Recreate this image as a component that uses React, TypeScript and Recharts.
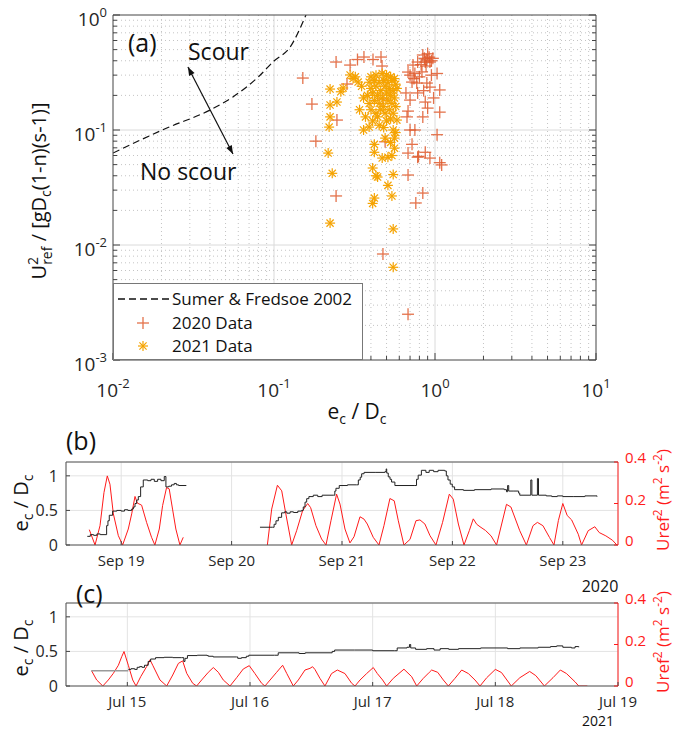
import React from 'react'
import {
  ComposedChart,
  Scatter,
  Line,
  XAxis,
  YAxis,
  ReferenceLine,
  Legend,
  CartesianGrid,
} from 'recharts'

const FONT = '"Open Sans", "DejaVu Sans", sans-serif'
const RED20 = '#e05a2c'
const YEL21 = '#f5a300'
const UCOL = '#ff1a1a'

// ---- panel (a) data ----
const sumerX = [0.01, 0.0216, 0.04, 0.0556, 0.08, 0.1, 0.126, 0.158]
const sumerY = [0.063, 0.104, 0.149, 0.194, 0.29, 0.398, 0.527, 1.0]

const data2020 = [
  [0.151, 0.283], [0.172, 0.168], [0.182, 0.08], [0.243, 0.39], [0.246, 0.122],
  [0.243, 0.0267], [0.297, 0.367], [0.33, 0.41], [0.362, 0.431], [0.412, 0.41],
  [0.462, 0.431], [0.469, 0.36], [0.284, 0.251], [0.49, 0.079], [0.475, 0.00835],
  [0.475, 0.186], [0.84, 0.449], [0.89, 0.407], [0.93, 0.39], [0.78, 0.39],
  [0.73, 0.367], [0.68, 0.319], [0.75, 0.31], [1.03, 0.31], [0.83, 0.32],
  [0.72, 0.261], [0.77, 0.256], [0.89, 0.256], [0.93, 0.236], [1.07, 0.223],
  [0.78, 0.21], [0.7, 0.182], [0.87, 0.175], [0.9, 0.155], [1.07, 0.143],
  [0.68, 0.146], [0.84, 0.13], [0.75, 0.1], [0.7, 0.1], [1.03, 0.091],
  [0.68, 0.063], [0.87, 0.064], [0.93, 0.057], [0.78, 0.058], [1.07, 0.052],
  [0.79, 0.059], [1.1, 0.0497], [0.68, 0.0406], [0.84, 0.0283], [0.76, 0.0232],
  [0.68, 0.0025], [0.86, 0.42], [0.92, 0.43], [0.95, 0.4], [0.88, 0.36],
  [0.82, 0.37], [0.97, 0.42], [0.7, 0.3], [0.74, 0.28], [0.8, 0.29],
  [0.95, 0.3], [0.66, 0.21], [0.67, 0.13], [0.98, 0.19], [0.85, 0.22],
  [0.72, 0.075], [0.9, 0.46], [0.87, 0.39],
]

const data2021 = [
  [0.223, 0.227], [0.269, 0.232], [0.297, 0.301], [0.333, 0.261], [0.223, 0.165],
  [0.246, 0.175], [0.223, 0.13], [0.22, 0.106], [0.217, 0.063], [0.23, 0.042],
  [0.223, 0.0155], [0.26, 0.215], [0.31, 0.28], [0.35, 0.24], [0.32, 0.29],
  [0.36, 0.1], [0.34, 0.15], [0.36, 0.19],
  [0.4, 0.29], [0.43, 0.3], [0.47, 0.31], [0.5, 0.3], [0.53, 0.29], [0.56, 0.28],
  [0.39, 0.26], [0.42, 0.27], [0.45, 0.26], [0.48, 0.27], [0.51, 0.26], [0.54, 0.27], [0.57, 0.25],
  [0.4, 0.23], [0.43, 0.24], [0.46, 0.22], [0.49, 0.24], [0.52, 0.23], [0.55, 0.22], [0.58, 0.23],
  [0.38, 0.2], [0.41, 0.21], [0.44, 0.2], [0.47, 0.19], [0.5, 0.21], [0.53, 0.2], [0.56, 0.19],
  [0.39, 0.17], [0.42, 0.18], [0.45, 0.17], [0.48, 0.16], [0.51, 0.18], [0.54, 0.17], [0.57, 0.16],
  [0.4, 0.15], [0.43, 0.14], [0.46, 0.15], [0.49, 0.14], [0.52, 0.15], [0.55, 0.14],
  [0.37, 0.13], [0.41, 0.12], [0.44, 0.13], [0.5, 0.12], [0.53, 0.125], [0.58, 0.122],
  [0.39, 0.106], [0.45, 0.11], [0.48, 0.105], [0.55, 0.1], [0.57, 0.095],
  [0.49, 0.085], [0.56, 0.085], [0.42, 0.075], [0.53, 0.078],
  [0.56, 0.0695], [0.42, 0.064], [0.51, 0.058], [0.47, 0.057], [0.54, 0.06],
  [0.41, 0.0467], [0.44, 0.039], [0.43, 0.04], [0.55, 0.041], [0.51, 0.033],
  [0.54, 0.0267], [0.42, 0.0256], [0.41, 0.023], [0.55, 0.0138], [0.55, 0.0064],
]

// ---- panel (b) data: Sep 2020, time in day of month ----
const ecB1 = [
  [18.693, 0.125], [18.72, 0.15], [18.75, 0.14], [18.78, 0.16], [18.81, 0.15], [18.853, 0.15],
  [18.868, 0.28], [18.88, 0.35], [18.892, 0.43], [18.922, 0.49], [18.96, 0.5], [19.0, 0.49],
  [19.03, 0.51], [19.06, 0.5], [19.095, 0.52], [19.11, 0.55], [19.125, 0.6], [19.14, 0.65],
  [19.155, 0.7], [19.176, 0.84], [19.2, 0.94], [19.24, 0.93], [19.27, 0.95], [19.3, 0.92],
  [19.33, 0.95], [19.36, 0.93], [19.39, 0.99], [19.405, 0.84], [19.43, 0.85], [19.456, 0.87],
  [19.48, 0.89], [19.5, 0.87], [19.52, 0.86], [19.59, 0.86],
]
const ecB2 = [
  [20.257, 0.257], [20.372, 0.257], [20.385, 0.3], [20.402, 0.35], [20.423, 0.4], [20.453, 0.465],
  [20.48, 0.48], [20.5, 0.46], [20.53, 0.48], [20.56, 0.47], [20.6, 0.49], [20.634, 0.5],
  [20.649, 0.55], [20.665, 0.62], [20.68, 0.67], [20.7, 0.7], [20.74, 0.72], [20.78, 0.7],
  [20.82, 0.72], [20.921, 0.72], [20.935, 0.78], [20.945, 0.82], [20.975, 0.86], [21.05, 0.87],
  [21.132, 0.87], [21.148, 0.94], [21.165, 0.98], [21.178, 1.03], [21.2, 1.05], [21.3, 1.05],
  [21.389, 1.06], [21.4, 1.1], [21.405, 1.04], [21.419, 0.985], [21.435, 0.95], [21.449, 0.91],
  [21.479, 0.86], [21.66, 0.86], [21.675, 0.95], [21.69, 1.01], [21.719, 1.08], [21.76, 1.05],
  [21.79, 1.08], [21.83, 1.06], [21.87, 1.08], [21.93, 1.07], [21.945, 1.0], [21.96, 0.94],
  [21.98, 0.88], [21.999, 0.84], [22.02, 0.8], [22.1, 0.79], [22.2, 0.8], [22.35, 0.81],
  [22.47, 0.8], [22.49, 0.77], [22.5, 0.86], [22.51, 0.78], [22.55, 0.78], [22.6, 0.75],
  [22.61, 0.72], [22.71, 0.94], [22.72, 0.72], [22.77, 0.96], [22.78, 0.72], [22.85, 0.71],
  [22.9, 0.7], [22.95, 0.71], [23.0, 0.7], [23.1, 0.7], [23.2, 0.71], [23.31, 0.7],
]
const uB1 = [
  [18.711, 0.074], [18.763, 0.0], [18.808, 0.093], [18.844, 0.253], [18.874, 0.333], [18.898, 0.293],
  [18.929, 0.15], [18.974, 0.045], [19.013, 0.0], [19.064, 0.077], [19.095, 0.15], [19.125, 0.234],
  [19.146, 0.202], [19.185, 0.192], [19.23, 0.109], [19.275, 0.037], [19.305, 0.0], [19.345, 0.077],
  [19.375, 0.19], [19.411, 0.277], [19.435, 0.27], [19.465, 0.173], [19.495, 0.077], [19.532, 0.0],
  [19.562, 0.037],
]
const uB2 = [
  [20.324, 0.0], [20.363, 0.173], [20.415, 0.288], [20.454, 0.261], [20.493, 0.145], [20.544, 0.0],
  [20.589, 0.069], [20.643, 0.165], [20.689, 0.2], [20.716, 0.18], [20.764, 0.093], [20.815, 0.029],
  [20.855, 0.0], [20.9, 0.117], [20.951, 0.245], [20.982, 0.197], [21.027, 0.077], [21.072, 0.01],
  [21.109, 0.04], [21.163, 0.136], [21.199, 0.125], [21.229, 0.101], [21.283, 0.037], [21.335, 0.0],
  [21.38, 0.093], [21.434, 0.224], [21.473, 0.213], [21.51, 0.117], [21.561, 0.0], [21.616, 0.027],
  [21.67, 0.117], [21.706, 0.121], [21.751, 0.101], [21.797, 0.045], [21.851, 0.0], [21.911, 0.109],
  [21.972, 0.245], [22.008, 0.221], [22.054, 0.101], [22.105, 0.0], [22.153, 0.069], [22.189, 0.126],
  [22.22, 0.1], [22.25, 0.088], [22.3, 0.07], [22.35, 0.044], [22.4, 0.0], [22.49, 0.196],
  [22.53, 0.183], [22.61, 0.069], [22.67, 0.0], [22.73, 0.093], [22.77, 0.109], [22.82, 0.093],
  [22.88, 0.036], [22.92, 0.0], [22.96, 0.118], [23.0, 0.2], [23.04, 0.142], [23.08, 0.121],
  [23.14, 0.052], [23.17, 0.0], [23.23, 0.069], [23.29, 0.088], [23.33, 0.06], [23.39, 0.044],
  [23.45, 0.023], [23.49, 0.0],
]

// ---- panel (c) data: Jul 2021 ----
const ecCgap = [[14.706, 0.22], [15.008, 0.22]]
const ecC = [
  [15.008, 0.24], [15.03, 0.25], [15.06, 0.24], [15.08, 0.27], [15.1, 0.28], [15.12, 0.27],
  [15.14, 0.3], [15.17, 0.355], [15.19, 0.39], [15.23, 0.41], [15.3, 0.415], [15.37, 0.41],
  [15.44, 0.41], [15.46, 0.355], [15.47, 0.4], [15.49, 0.44], [15.57, 0.445], [15.65, 0.44],
  [15.66, 0.43], [15.7, 0.42], [15.89, 0.42], [15.9, 0.4], [15.93, 0.41], [15.97, 0.43],
  [15.99, 0.445], [16.2, 0.445], [16.23, 0.48], [16.4, 0.47], [16.45, 0.48], [16.67, 0.5],
  [16.69, 0.52], [16.85, 0.52], [17.0, 0.51], [17.18, 0.51], [17.2, 0.55], [17.28, 0.56],
  [17.3, 0.6], [17.31, 0.55], [17.35, 0.53], [17.44, 0.54], [17.5, 0.52], [17.55, 0.54],
  [17.62, 0.53], [17.7, 0.54], [17.88, 0.55], [18.1, 0.54], [18.2, 0.55], [18.35, 0.56],
  [18.45, 0.57], [18.5, 0.58], [18.55, 0.56], [18.62, 0.55], [18.65, 0.57], [18.68, 0.56],
]
const uC = [
  [14.709, 0.073], [14.75, 0.029], [14.8, 0.0], [14.845, 0.029], [14.886, 0.061], [14.927, 0.1],
  [14.954, 0.141], [14.973, 0.166], [15.008, 0.1], [15.044, 0.029], [15.071, 0.0], [15.109, 0.045],
  [15.158, 0.094], [15.185, 0.126], [15.207, 0.1], [15.266, 0.029], [15.321, 0.0], [15.37, 0.053],
  [15.416, 0.109], [15.451, 0.121], [15.484, 0.061], [15.533, 0.013], [15.565, 0.0], [15.606, 0.029],
  [15.66, 0.066], [15.701, 0.089], [15.742, 0.066], [15.782, 0.029], [15.837, 0.0], [15.891, 0.04],
  [15.945, 0.082], [15.994, 0.098], [16.04, 0.06], [16.095, 0.013], [16.122, 0.0], [16.217, 0.066],
  [16.266, 0.1], [16.3, 0.06], [16.353, 0.0], [16.394, 0.029], [16.448, 0.077], [16.489, 0.085],
  [16.51, 0.093], [16.529, 0.08], [16.57, 0.037], [16.611, 0.0], [16.665, 0.06], [16.712, 0.077],
  [16.774, 0.06], [16.829, 0.013], [16.856, 0.0], [16.897, 0.029], [16.951, 0.06], [17.005, 0.089],
  [17.038, 0.06], [17.081, 0.029], [17.114, 0.0], [17.168, 0.037], [17.255, 0.081], [17.318, 0.045],
  [17.359, 0.0], [17.413, 0.037], [17.462, 0.066], [17.481, 0.077], [17.53, 0.066], [17.576, 0.029],
  [17.617, 0.0], [17.671, 0.037], [17.726, 0.077], [17.78, 0.06], [17.834, 0.029], [17.875, 0.0],
  [17.93, 0.04], [18.0, 0.08], [18.05, 0.065], [18.13, 0.0], [18.2, 0.04], [18.28, 0.07],
  [18.33, 0.05], [18.4, 0.0], [18.47, 0.04], [18.53, 0.077], [18.58, 0.06], [18.65, 0.02],
  [18.68, 0.0], [18.75, 0.0],
]

const sepTicks = [19, 20, 21, 22, 23]
const julTicks = [15, 16, 17, 18, 19]

const toXY = (arr: number[][]) => arr.map(([x, y]) => ({ x, y }))
const toTV = (arr: number[][]) => arr.map(([t, v]) => ({ t, v }))

function logTicks(lo: number, hi: number) {
  const out: number[] = []
  for (let e = lo; e < hi; e++) {
    for (let m = 1; m < 10; m++) out.push(Number((m * Math.pow(10, e)).toPrecision(2)))
  }
  out.push(Math.pow(10, hi))
  return out
}
const xTicksA = logTicks(-2, 1)
const yTicksA = logTicks(-3, 0)
const isDecade = (v: number) => Math.abs(Math.log10(v) - Math.round(Math.log10(v))) < 1e-6

// ---- markers ----
const Cross = ({ cx, cy }: any) => (
  <g stroke={RED20} strokeWidth={1.3} opacity={0.85}>
    <line x1={cx - 6} x2={cx + 6} y1={cy} y2={cy} />
    <line x1={cx} x2={cx} y1={cy - 6} y2={cy + 6} />
  </g>
)
const Aster = ({ cx, cy }: any) => (
  <g stroke={YEL21} strokeWidth={1.2}>
    <line x1={cx - 5} x2={cx + 5} y1={cy} y2={cy} />
    <line x1={cx} x2={cx} y1={cy - 5} y2={cy + 5} />
    <line x1={cx - 3.6} x2={cx + 3.6} y1={cy - 3.6} y2={cy + 3.6} />
    <line x1={cx - 3.6} x2={cx + 3.6} y1={cy + 3.6} y2={cy - 3.6} />
  </g>
)

const Pow = ({ x, y, v, anchor }: any) => (
  <text x={x} y={y} textAnchor={anchor} fontSize={19} fill="#262626" fontFamily={FONT}>
    10<tspan dy={-9} fontSize={13}>{Math.round(Math.log10(v))}</tspan>
  </text>
)

const XTickA = ({ x, y, payload }: any) => {
  const major = isDecade(payload.value)
  return (
    <g>
      <line x1={x} x2={x} y1={y} y2={y - (major ? 7 : 4)} stroke="#444" />
      {major && <Pow x={x} y={y + 37} v={payload.value} anchor="middle" />}
    </g>
  )
}
const TopTickA = ({ x, y, payload }: any) => (
  <line x1={x} x2={x} y1={y} y2={y + (isDecade(payload.value) ? 7 : 4)} stroke="#444" />
)
const YTickA = ({ x, y, payload }: any) => {
  const major = isDecade(payload.value)
  return (
    <g>
      <line x1={x} x2={x + (major ? 7 : 4)} y1={y} y2={y} stroke="#444" />
      {major && <Pow x={x - 6} y={y + 11} v={payload.value} anchor="end" />}
    </g>
  )
}
const RightTickA = ({ x, y, payload }: any) => (
  <line x1={x} x2={x - (isDecade(payload.value) ? 7 : 4)} y1={y} y2={y} stroke="#444" />
)

const DoubleArrow = ({ x1, y1, x2, y2 }: any) => {
  const a = Math.atan2(y2 - y1, x2 - x1)
  const head = (px: number, py: number, ang: number) => {
    const l = 9
    const w = 0.35
    return (
      <polygon
        points={`${px},${py} ${px - l * Math.cos(ang - w)},${py - l * Math.sin(ang - w)} ${px - l * Math.cos(ang + w)},${py - l * Math.sin(ang + w)}`}
        fill="#111"
      />
    )
  }
  return (
    <g>
      <line x1={x1} y1={y1} x2={x2} y2={y2} stroke="#111" strokeWidth={1.2} />
      {head(x2, y2, a)}
      {head(x1, y1, a + Math.PI)}
    </g>
  )
}

const LegendA = () => (
  <div style={{ width: 250, height: 77, boxSizing: 'border-box', border: '1px solid #777', background: '#fff' }}>
    <svg width={248} height={75} style={{ display: 'block' }}>
      <line x1={4} x2={55} y1={15} y2={15} stroke="#111" strokeWidth={1.3} strokeDasharray="7 4" />
      <text x={58} y={21} fontSize={17} fontFamily={FONT} fill="#111">Sumer &amp; Fredsoe 2002</text>
      <Cross cx={29} cy={39} />
      <text x={58} y={45} fontSize={17} fontFamily={FONT} fill="#111">2020 Data</text>
      <Aster cx={29} cy={62} />
      <text x={58} y={68} fontSize={17} fontFamily={FONT} fill="#111">2021 Data</text>
    </svg>
  </div>
)

// ---- panel (b)/(c) ticks ----
const DayTick = (month: string) => ({ x, y, payload }: any) => (
  <g>
    <line x1={x} x2={x} y1={y} y2={y - 4} stroke="#444" />
    <text x={x} y={y + 21} textAnchor="middle" fontSize={15} fontFamily={FONT} fill="#262626">
      {`${month} ${payload.value}`}
    </text>
  </g>
)
const TopDayTick = ({ x, y }: any) => <line x1={x} x2={x} y1={y} y2={y + 4} stroke="#444" />
const LeftTick = ({ x, y, payload }: any) => (
  <g>
    <line x1={x} x2={x + 4} y1={y} y2={y} stroke="#444" />
    <text x={x - 8} y={y + 6} textAnchor="end" fontSize={16} fontFamily={FONT} fill="#262626">
      {payload.value}
    </text>
  </g>
)
const RightTick = ({ x, y, payload }: any) => (
  <g>
    <line x1={x} x2={x - 4} y1={y} y2={y} stroke={UCOL} />
    <text x={x + 7} y={y + 1} textAnchor="start" fontSize={15} fontFamily={FONT} fill={UCOL}>
      {payload.value}
    </text>
  </g>
)

const TimePanel = ({ domain, ticks, month, ec, ecGap, u }: any) => (
  <ComposedChart width={673} height={146} margin={{ top: 17, right: 5, bottom: 15, left: 16 }}>
    <CartesianGrid yAxisId="l" stroke="#e3e3e3" />
    <XAxis
      dataKey="t" type="number" domain={domain} ticks={ticks} interval={0}
      tick={DayTick(month)} tickSize={0} tickMargin={0} height={30} allowDataOverflow stroke="#555"
    />
    <XAxis
      xAxisId="top" orientation="top" type="number" domain={domain} ticks={ticks} interval={0}
      tick={TopDayTick} tickSize={0} tickMargin={0} height={1} allowDataOverflow stroke="#555"
    />
    <YAxis
      yAxisId="l" type="number" domain={[0, 1.2]} ticks={[0, 0.5, 1]} interval={0}
      tick={LeftTick} tickSize={0} tickMargin={0} width={50} allowDataOverflow stroke="#555"
    />
    <YAxis
      yAxisId="r" orientation="right" type="number" domain={[0, 0.4]} ticks={[0, 0.2, 0.4]} interval={0}
      tick={RightTick} tickSize={0} tickMargin={0} width={50} allowDataOverflow stroke={UCOL}
    />
    {u.map((seg: number[][], i: number) => (
      <Line
        key={`u${i}`} yAxisId="r" data={toTV(seg)} dataKey="v" type="linear" stroke={UCOL}
        strokeWidth={1} dot={false} isAnimationActive={false}
      />
    ))}
    {ecGap && (
      <Line
        yAxisId="l" data={toTV(ecGap)} dataKey="v" type="linear" stroke="#9a9a9a"
        strokeWidth={1.6} dot={false} isAnimationActive={false}
      />
    )}
    {ec.map((seg: number[][], i: number) => (
      <Line
        key={`e${i}`} yAxisId="l" data={toTV(seg)} dataKey="v" type="stepAfter" stroke="#222"
        strokeWidth={1} dot={false} isAnimationActive={false}
      />
    ))}
  </ComposedChart>
)

const Sub = ({ children }: any) => <tspan dy={5} fontSize={14}>{children}</tspan>

export default function App() {
  return (
    <div style={{ position: 'absolute', left: 0, top: 0, width: 673, height: 731, background: '#fff', fontFamily: FONT }}>
      <div style={{ position: 'absolute', left: 0, top: 0 }}>
        <ComposedChart width={673} height={430} margin={{ top: 14, right: 76, bottom: 30, left: 53 }}>
          {xTicksA.filter(v => v > 0.01 && v < 10).map(v => (
            <ReferenceLine
              key={`gx${v}`} x={v} stroke={isDecade(v) ? '#dadada' : '#c4c4c4'}
              strokeDasharray={isDecade(v) ? undefined : '1 3'}
            />
          ))}
          {yTicksA.filter(v => v > 0.001 && v < 1).map(v => (
            <ReferenceLine
              key={`gy${v}`} y={v} stroke={isDecade(v) ? '#dadada' : '#c4c4c4'}
              strokeDasharray={isDecade(v) ? undefined : '1 3'}
            />
          ))}
          <XAxis
            dataKey="x" type="number" scale="log" domain={[0.01, 10]} ticks={xTicksA} interval={0}
            tick={XTickA} tickSize={0} tickMargin={0} height={40} allowDataOverflow stroke="#444"
          />
          <XAxis
            xAxisId="top" orientation="top" type="number" scale="log" domain={[0.01, 10]} ticks={xTicksA}
            interval={0} tick={TopTickA} tickSize={0} tickMargin={0} height={1} allowDataOverflow stroke="#444"
          />
          <YAxis
            dataKey="y" type="number" scale="log" domain={[0.001, 1]} ticks={yTicksA} interval={0}
            tick={YTickA} tickSize={0} tickMargin={0} width={60} allowDataOverflow stroke="#444"
          />
          <YAxis
            yAxisId="right" orientation="right" type="number" scale="log" domain={[0.001, 1]} ticks={yTicksA}
            interval={0} tick={RightTickA} tickSize={0} tickMargin={0} width={1} allowDataOverflow stroke="#444"
          />
          <Line
            data={sumerX.map((x, i) => ({ x, y: sumerY[i] }))} dataKey="y" type="monotone" stroke="#111"
            strokeWidth={1.2} strokeDasharray="7 4" dot={false} isAnimationActive={false}
          />
          <Scatter data={toXY(data2020)} shape={Cross} isAnimationActive={false} />
          <Scatter data={toXY(data2021)} shape={Aster} isAnimationActive={false} />
          <ReferenceLine
            segment={[{ x: 0.0292, y: 0.353 }, { x: 0.0556, y: 0.0618 }]}
            shape={DoubleArrow} ifOverflow="visible"
          />
          <Legend
            layout="horizontal" verticalAlign="middle" align="center" content={LegendA}
            wrapperStyle={{ left: 113, top: 283, width: 250, height: 77 }}
          />
        </ComposedChart>
      </div>

      <div style={{ position: 'absolute', left: 0, top: 444 }}>
        <TimePanel domain={[18.5, 23.5]} ticks={sepTicks} month="Sep" ec={[ecB1, ecB2]} u={[uB1, uB2]} />
      </div>
      <div style={{ position: 'absolute', left: 0, top: 585 }}>
        <TimePanel domain={[14.5, 19]} ticks={julTicks} month="Jul" ec={[ecC]} ecGap={ecCgap} u={[uC]} />
      </div>

      <svg width={673} height={731} style={{ position: 'absolute', left: 0, top: 0, pointerEvents: 'none' }}>
        <g fontFamily={FONT} fill="#111">
          <text x={128} y={52} fontSize={25}>(a)</text>
          <text x={188} y={60} fontSize={23}>Scour</text>
          <text x={140} y={180} fontSize={23}>No scour</text>
          <text x={46} y={191} fontSize={20} textAnchor="middle" transform="rotate(-90 46 191)">
            U<tspan dy={-8} fontSize={14}>2</tspan>
            <tspan dx={-8} dy={14} fontSize={14}>ref</tspan>
            <tspan dy={-6}> / [gD</tspan>
            <tspan dy={5} fontSize={14}>c</tspan>
            <tspan dy={-5}>(1-n)(s-1)]</tspan>
          </text>
          <text x={357} y={419} fontSize={21} textAnchor="middle">
            e<Sub>c</Sub><tspan dy={-5}> / D</tspan><Sub>c</Sub>
          </text>

          <text x={66} y={450} fontSize={25}>(b)</text>
          <text x={28} y={503} fontSize={20} textAnchor="middle" transform="rotate(-90 28 503)">
            e<Sub>c</Sub><tspan dy={-5}> / D</tspan><Sub>c</Sub>
          </text>
          <text x={669} y={500} fontSize={17} textAnchor="middle" fill={UCOL} transform="rotate(-90 669 500)">
            Uref<tspan dy={-7} fontSize={12}>2</tspan><tspan dy={7}> (m</tspan>
            <tspan dy={-7} fontSize={12}>2</tspan><tspan dy={7}> s</tspan>
            <tspan dy={-7} fontSize={12}>-2</tspan><tspan dy={7}>)</tspan>
          </text>
          <text x={600} y={592} fontSize={16} textAnchor="middle">2020</text>

          <text x={76} y={603} fontSize={25}>(c)</text>
          <text x={28} y={648} fontSize={20} textAnchor="middle" transform="rotate(-90 28 648)">
            e<Sub>c</Sub><tspan dy={-5}> / D</tspan><Sub>c</Sub>
          </text>
          <text x={669} y={642} fontSize={17} textAnchor="middle" fill={UCOL} transform="rotate(-90 669 642)">
            Uref<tspan dy={-7} fontSize={12}>2</tspan><tspan dy={7}> (m</tspan>
            <tspan dy={-7} fontSize={12}>2</tspan><tspan dy={7}> s</tspan>
            <tspan dy={-7} fontSize={12}>-2</tspan><tspan dy={7}>)</tspan>
          </text>
          <text x={598} y={726} fontSize={14} textAnchor="middle">2021</text>
        </g>
      </svg>
    </div>
  )
}
